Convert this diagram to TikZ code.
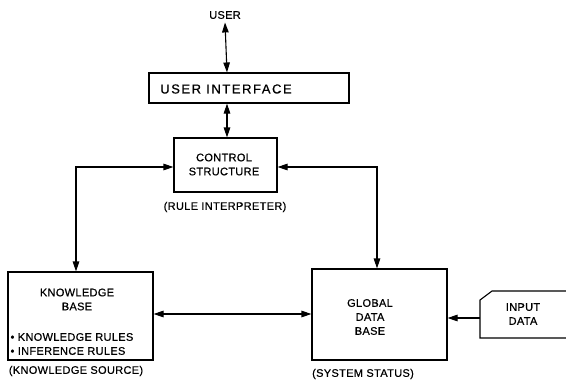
\documentclass[tikz,border=0pt]{standalone}
\usepackage{fontspec}
\setmainfont{Liberation Sans}
\newfontfamily\lblfont[LetterSpace=3,FakeBold=0.6]{Liberation Sans}
\newfontfamily\uifont[LetterSpace=12,FakeBold=0.6]{Liberation Sans}
\usetikzlibrary{arrows.meta}
\begin{document}
\begin{tikzpicture}[x=1pt,y=-1pt,
  line width=1.1pt,
  txt/.style={font=\lblfont\fontsize{11}{14}\selectfont, align=center, inner sep=0pt},
  blk/.style={draw, line width=1.1pt, inner sep=0pt},
  tip/.style={Triangle[length=10pt,width=6.5pt]},
  dbl/.style={{Triangle[length=10pt,width=6.5pt]}-{Triangle[length=10pt,width=6.5pt]}},
  one/.style={-{Triangle[length=10pt,width=6.5pt]}}]
\useasboundingbox (0,0) rectangle (566,381);

% user and interface
\node[txt] (user) at (225,15) {USER};
\node[blk, minimum width=200pt, minimum height=30pt] (ui) at (249,88) {};
\node[txt, font=\uifont\fontsize{13}{15}\selectfont] (uitext) at (226,89) {USER INTERFACE};

% control structure
\node[blk, minimum width=103pt, minimum height=54pt] (ctrl) at (225.5,165) {};
\node[txt] (ctrltext) at (224,164.5) {CONTROL\\STRUCTURE};
\node[txt] (ctrllbl) at (225,207) {(RULE INTERPRETER)};

% knowledge base
\node[blk, minimum width=145pt, minimum height=88pt] (kb) at (80.5,316) {};
\node[txt] (kbtext) at (77,299.5) {KNOWLEDGE\\BASE};
\node[txt, align=left, anchor=west] (kbrules) at (10,344) {\textbullet\ KNOWLEDGE RULES\\\textbullet\ INFERENCE RULES};
\node[txt] (kblbl) at (76,371) {(KNOWLEDGE SOURCE)};

% global data base
\node[blk, minimum width=135pt, minimum height=91pt] (gdb) at (379.5,314.5) {};
\node[txt] (gdbtext) at (370,317) {GLOBAL\\DATA\\BASE};
\node[txt] (gdblbl) at (363,374) {(SYSTEM STATUS)};

% input data card, open towards the right edge
\draw (575,291) -- (492,291) -- (480,300) -- (480,338) -- (575,338);
\node[txt] (inptext) at (523,314) {INPUT\\DATA};
\coordinate (inp) at (480,318);

% connectors
\draw[dbl] ([yshift=-3pt]user.south) -- ([xshift=2pt]user.south |- ui.north);
\draw[dbl] ([xshift=2pt]user.south |- ui.south) -- ([xshift=2pt]user.south |- ctrl.north);
\draw[dbl] ([yshift=-2pt]ctrl.west) -| ([xshift=-4.5pt]kb.north);
\draw[dbl] ([yshift=-2pt]ctrl.east) -| ([xshift=-2.5pt]gdb.north);
\draw[dbl] ([yshift=2pt]kb.east) -- ([yshift=2pt]kb.east -| gdb.west);
\draw[one] (inp) -- (inp -| gdb.east);
\end{tikzpicture}
\end{document}
